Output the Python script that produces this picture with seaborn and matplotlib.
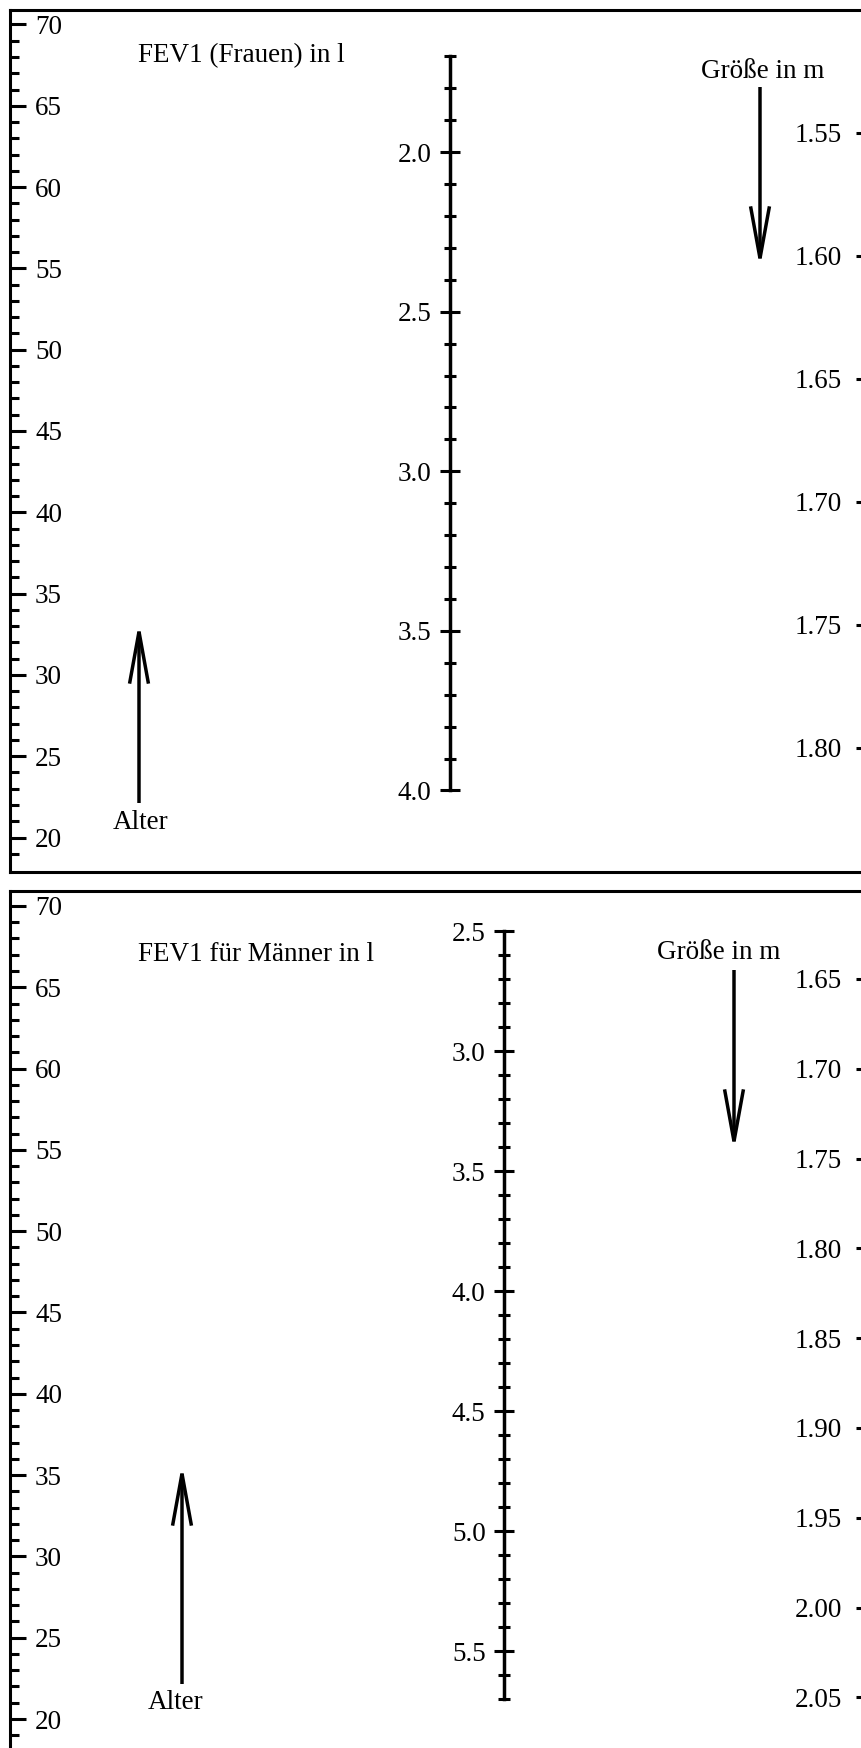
import numpy as np
import matplotlib
matplotlib.use("Agg")
import matplotlib.pyplot as plt
import seaborn as sns

# ---- scale values of the two FEV1 nomograms ----
age_ticks = [20, 25, 30, 35, 40, 45, 50, 55, 60, 65, 70]
age_minor = list(range(19, 71))

fev_women_ticks = [2.0, 2.5, 3.0, 3.5, 4.0]
fev_women_range = [1.7, 4.0]
fev_men_ticks = [2.5, 3.0, 3.5, 4.0, 4.5, 5.0, 5.5]
fev_men_range = [2.5, 5.7]

height_women_ticks = [1.55, 1.60, 1.65, 1.70, 1.75, 1.80]
height_men_ticks = [1.65, 1.70, 1.75, 1.80, 1.85, 1.90, 1.95, 2.00, 2.05]

titles = ["FEV1 (Frauen) in l", "FEV1 für Männer in l"]
age_label = "Alter"
height_label = "Größe in m"

# ---- styling ----
sns.set_theme(style="white", rc={
    "axes.edgecolor": "black", "text.color": "black",
    "xtick.color": "black", "ytick.color": "black",
})
plt.rcParams["font.family"] = ["Liberation Serif", "DejaVu Serif"]
FS = 19.5
LW = 2.2

W, H = 861, 1748
fig = plt.figure(figsize=(W / 100, H / 100), dpi=100)


def fx(px):
    return px / W


def fy(py):
    return 1 - py / H


def rect(top, bottom, left=10, right=868):
    return [left / W, 1 - bottom / H, (right - left) / W, (bottom - top) / H]


def clean(a):
    a.set_xlim(0, 1)
    a.set_xticks([])
    a.patch.set_alpha(0)


def arrow(x, y_tail, y_tip):
    # the curve-style head ends a little short of its anchor, so extend it
    d = 8 if y_tip > y_tail else -8
    fig.add_artist(matplotlib.patches.FancyArrowPatch(
        (fx(x), fy(y_tail)), (fx(x), fy(y_tip + d)), transform=fig.transFigure,
        arrowstyle="->,head_length=3.74,head_width=0.68", mutation_scale=10,
        lw=2.5, color="black", shrinkA=0, shrinkB=0, joinstyle="miter",
        capstyle="butt"))


panels = [
    dict(top=9.5, bottom=871.5, fev_ticks=fev_women_ticks, fev_range=fev_women_range,
         fev_lim=(4.254, 1.553), fev_x=450, h_ticks=height_women_ticks,
         h_lim=(1.8504, 1.50), title=titles[0], title_xy=(138, 62),
         hl_xy=(763, 78), g_arrow=(760, 87, 260), a_arrow=(139, 803, 630),
         al_xy=(141, 829)),
    dict(top=891, bottom=1753, fev_ticks=fev_men_ticks, fev_range=fev_men_range,
         fev_lim=(5.925, 2.333), fev_x=504, h_ticks=height_men_ticks,
         h_lim=(2.081, 1.601), title=titles[1], title_xy=(138, 961),
         hl_xy=(719, 959), g_arrow=(734, 970, 1143), a_arrow=(182, 1684, 1472),
         al_xy=(176, 1709)),
]

for p in panels:
    r = rect(p["top"], p["bottom"])

    # frame with the age scale on its left edge
    ax = fig.add_axes(r)
    clean(ax)
    ax.set_ylim(17.91, 70.92)
    for s in ax.spines.values():
        s.set_linewidth(LW)
        s.set_color("black")
    ax.set_yticks(age_ticks, labels=[str(v) for v in age_ticks])
    ax.set_yticks(age_minor, minor=True)
    ax.tick_params(axis="y", which="major", left=True, direction="in",
                   length=11.5, width=LW, pad=-18, labelsize=FS)
    ax.tick_params(axis="y", which="minor", left=True, direction="in",
                   length=6.5, width=LW)
    for lbl in ax.get_yticklabels():
        lbl.set_horizontalalignment("left")

    # middle FEV1 scale
    am = fig.add_axes(r)
    clean(am)
    am.set_ylim(*p["fev_lim"])
    for k in ("top", "bottom", "right"):
        am.spines[k].set_visible(False)
    xf = (p["fev_x"] - 10) / (868 - 10)
    am.spines["left"].set_position(("axes", xf))
    am.spines["left"].set_bounds(*p["fev_range"])
    am.spines["left"].set_linewidth(2.5)
    am.spines["left"].set_color("black")
    lo, hi = p["fev_range"]
    am.set_yticks(p["fev_ticks"], labels=[f"{v:.1f}" for v in p["fev_ticks"]])
    am.set_yticks(np.round(np.arange(lo, hi + 1e-9, 0.1), 1), minor=True)
    am.tick_params(axis="y", which="major", left=True, direction="inout",
                   length=14.4, width=LW, pad=6, labelsize=FS)
    am.tick_params(axis="y", which="minor", left=True, direction="inout",
                   length=8, width=LW)

    # body height scale on the right edge
    ar = fig.add_axes(r)
    clean(ar)
    ar.set_ylim(*p["h_lim"])
    for s in ar.spines.values():
        s.set_visible(False)
    ar.yaxis.set_ticks_position("right")
    ar.set_yticks(p["h_ticks"], labels=[f"{v:.2f}" for v in p["h_ticks"]])
    ar.tick_params(axis="y", which="major", right=True, left=False,
                   labelright=True, labelleft=False, direction="in",
                   length=8.6, width=LW, pad=-18.7, labelsize=FS)
    for lbl in ar.get_yticklabels():
        lbl.set_horizontalalignment("right")

    # captions and direction arrows
    fig.text(fx(p["title_xy"][0]), fy(p["title_xy"][1]), p["title"],
             fontsize=FS, ha="left", va="baseline")
    fig.text(fx(p["hl_xy"][0]), fy(p["hl_xy"][1]), height_label,
             fontsize=FS, ha="center", va="baseline")
    fig.text(fx(p["al_xy"][0]), fy(p["al_xy"][1]), age_label,
             fontsize=FS, ha="center", va="baseline")
    arrow(*p["g_arrow"])
    arrow(*p["a_arrow"])

fig.savefig("out.png", dpi=100)
